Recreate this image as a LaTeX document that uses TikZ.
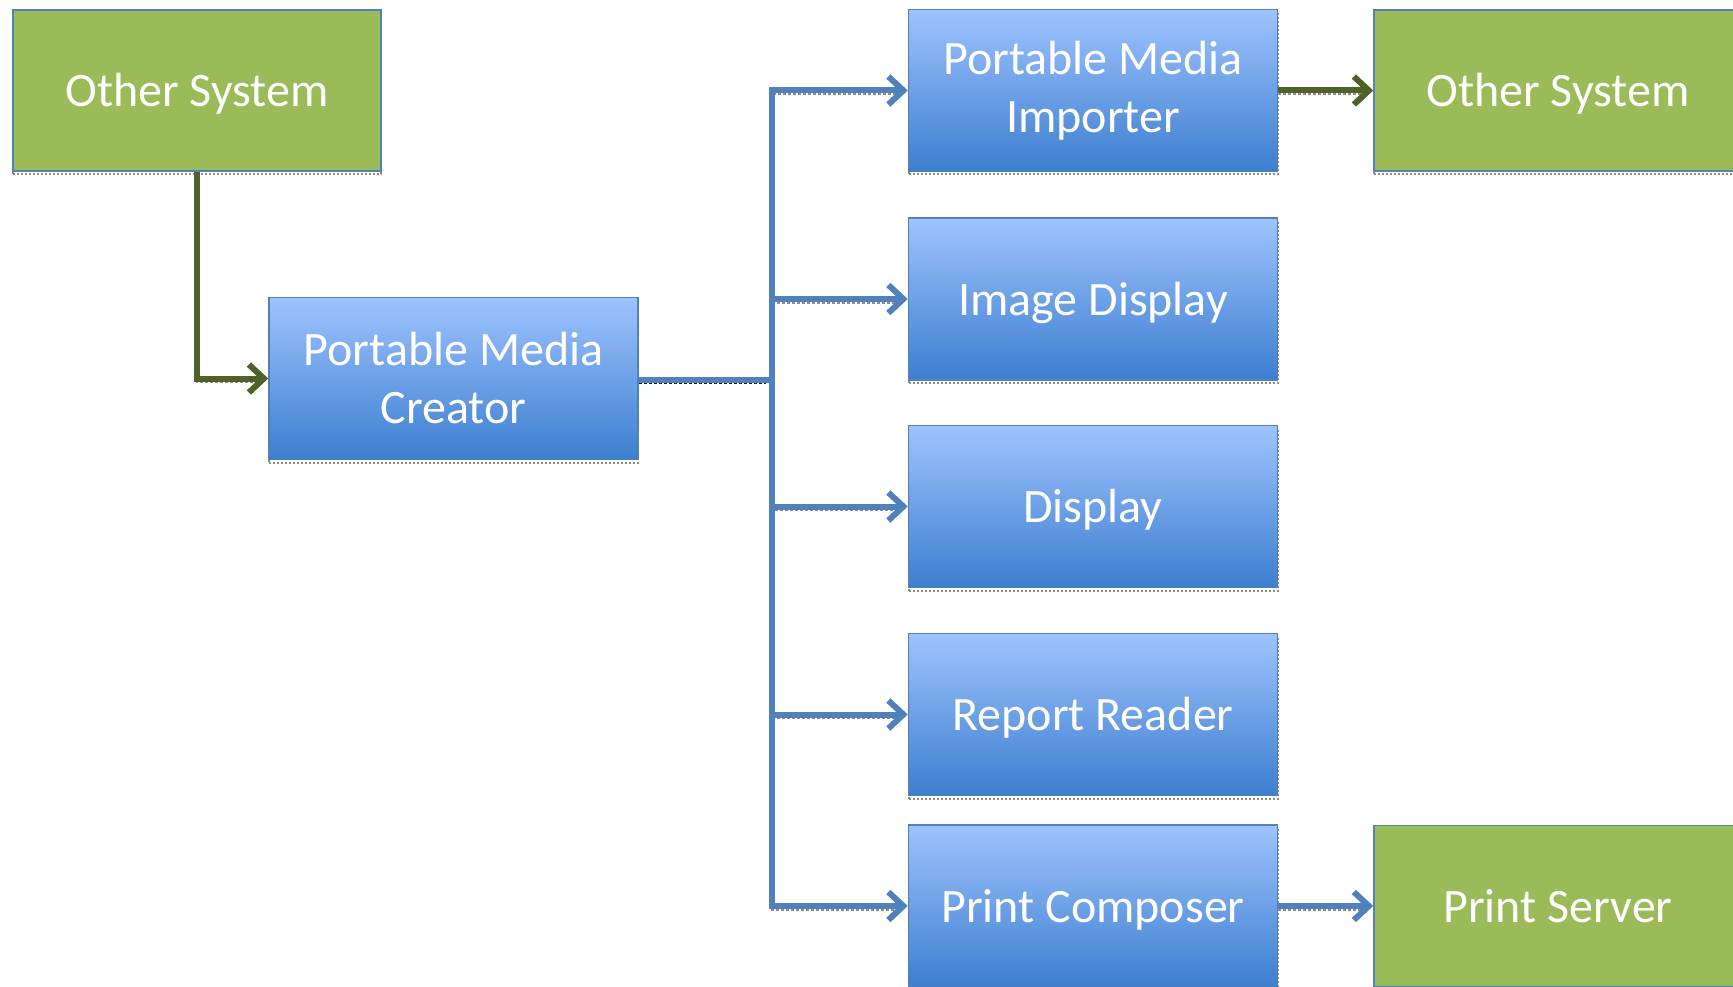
\documentclass[tikz,border=0pt]{standalone}
\usepackage{fontspec}
\setmainfont{Carlito}
\usetikzlibrary{arrows.meta}
\definecolor{boxgreen}{RGB}{155,187,89}
\definecolor{boxborder}{RGB}{79,129,189}
\definecolor{gradtop}{RGB}{158,195,255}
\definecolor{gradbot}{RGB}{60,126,206}
\definecolor{linkblue}{RGB}{79,129,189}
\definecolor{linkgreen}{RGB}{79,98,40}
\tikzset{
  boxshadow/.style={preaction={draw=black!45, dotted, line width=2pt, transform canvas={yshift=-3pt}}},
  linkshadow/.style={preaction={draw=black!#1, dotted, line width=3pt, -, shorten >=6pt, transform canvas={yshift=-3pt}}},
  oneline/.style={text height=41pt, text depth=9pt},
  greenbox/.style={boxshadow, draw=boxborder, line width=1.5pt, fill=boxgreen, text=white,
    minimum width=368pt, minimum height=161pt, inner sep=0pt, align=center,
    font=\fontsize{48}{58}\selectfont},
  bluebox/.style={boxshadow, draw=boxborder, line width=1.5pt, top color=gradtop, bottom color=gradbot,
    text=white, minimum width=369pt, minimum height=162pt, inner sep=0pt, align=center,
    font=\fontsize{48}{58}\selectfont},
  bluelink/.style={draw=linkblue, line width=6pt},
  bluearrow/.style={linkshadow=45, bluelink, -{Straight Barb[length=15pt,width=28pt]}},
  greenarrow/.style={linkshadow=45, draw=linkgreen, line width=6pt, -{Straight Barb[length=15pt,width=28pt]}},
}
\begin{document}
\begin{tikzpicture}[x=1pt,y=-1pt]
\useasboundingbox (0,0) rectangle (1733,987);
\node[greenbox, oneline] (os1) at (197,90.5) {Other System};
\node[bluebox] (pmc) at (453.5,378.5) {Portable Media\\Creator};
\node[bluebox] (pmi) at (1093,90.5) {Portable Media\\Importer};
\node[bluebox, oneline] (imd) at (1093,299) {Image Display};
\node[bluebox, oneline] (dsp) at (1093,506.5) {Display};
\node[bluebox, oneline] (rr) at (1093,714.5) {Report Reader};
\node[bluebox, oneline] (pc) at (1093,906) {Print Composer};
\node[greenbox, oneline] (os2) at (1558,90.5) {Other System};
\node[greenbox, oneline] (ps) at (1558,906) {Print Server};
\coordinate (j) at (772,379.5);
\draw[linkshadow=90, bluelink] (pmc.east |- j) -- (j);
\draw[bluearrow] (j) |- (pmi.west);
\draw[bluearrow] (j) |- (imd.west);
\draw[bluearrow] (j) |- (dsp.west);
\draw[bluearrow] (j) |- (rr.west);
\draw[bluearrow] (j) |- (pc.west);
\draw[greenarrow] (os1.south) |- (pmc.west);
\draw[greenarrow] (pmi.east) -- (os2.west);
\draw[bluearrow] (pc.east) -- (ps.west);
\end{tikzpicture}
\end{document}
